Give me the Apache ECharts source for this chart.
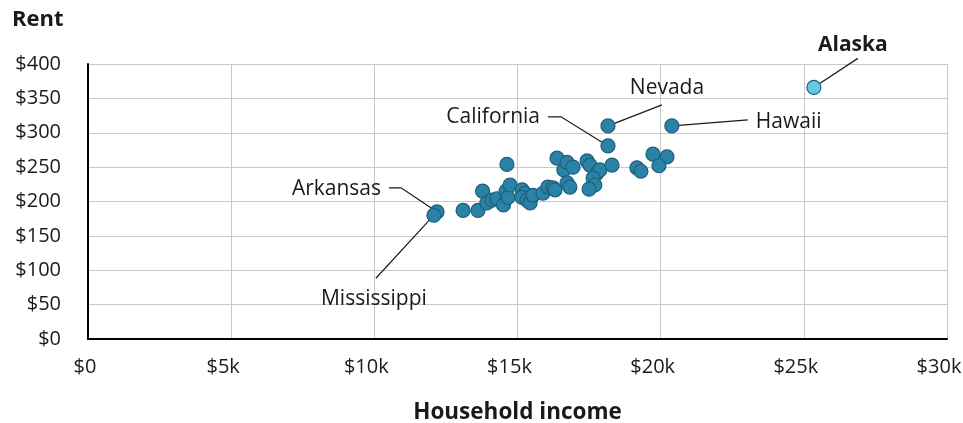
<!DOCTYPE html>
<html>
<head>
<meta charset="utf-8">
<script src="https://cdn.jsdelivr.net/npm/echarts@6/dist/echarts.min.js"></script>
<style>
html,body{margin:0;padding:0;background:#fff;}
#chart{width:963px;height:423px;}
</style>
</head>
<body>
<div id="chart"></div>
<script>
// Household income (USD) and rent (USD) per state
const states = ["Alaska","Hawaii","Nevada","California","Arkansas","Mississippi"];
const labeledIncome = [25350, 20390, 18160, 18160, 12190, 12080];
const labeledRent   = [366, 310, 310, 281, 185, 180];

const otherIncome = [13100,13620,13780,13930,14110,14280,14510,14600,14670,14740,14630,
  15160,15260,15160,15330,15440,15540,15890,16060,16240,16310,16380,16620,16730,16940,
  16730,16830,17430,17530,17770,17880,18300,17640,17700,17500,19170,19310,19730,20220,19940];
const otherRent = [187,187,215,198,202,204,195,215,206,224,254,
  217,212,206,202,198,209,212,221,220,217,263,246,257,250,
  227,221,259,253,241,246,253,234,224,218,249,244,269,265,252];

const xTicks = ["$0","$5k","$10k","$15k","$20k","$25k","$30k"];
const yTicks = ["$0","$50","$100","$150","$200","$250","$300","$350","$400"];

const FONT = "'Open Sans', 'Noto Sans', sans-serif";
const chart = echarts.init(document.getElementById('chart'));

const otherData = otherIncome.map((x, i) => [x, otherRent[i]]);
const labeledData = labeledIncome.map((x, i) => ({
  value: [x, labeledRent[i]],
  name: states[i],
  itemStyle: i === 0 ? {color: '#64c8e2', borderColor: '#1c5f7b'} : undefined
}));

const tickText = {fontFamily: FONT, fontSize: 20, color: '#1a1a1a'};

chart.setOption({
  animation: false,
  grid: {left: 88, right: 16, top: 64, bottom: 84, containLabel: false, outerBoundsMode: 'none'},
  xAxis: {
    type: 'value', min: 0, max: 30000, interval: 5000,
    name: 'Household income', nameLocation: 'middle', nameGap: 62,
    nameTextStyle: {fontFamily: FONT, fontSize: 22.5, fontWeight: 'bold', color: '#1a1a1a'},
    axisLine: {show: true, onZero: false, lineStyle: {color: '#000', width: 2}},
    axisTick: {show: false},
    splitLine: {show: true, lineStyle: {color: '#c8c8c8', width: 1}},
    axisLabel: {margin: 18,
      formatter: v => { const i = Math.round(v / 5000); return (i === 0 ? '{z|' : '{t|') + xTicks[i] + '}'; },
      rich: {
        t: Object.assign({padding: [0, 16, 0, 0]}, tickText),
        z: Object.assign({padding: [0, 6, 0, 0]}, tickText)
      }}
  },
  yAxis: {
    type: 'value', min: 0, max: 400, interval: 50,
    axisLine: {show: true, onZero: false, lineStyle: {color: '#000', width: 2}},
    axisTick: {show: false},
    splitLine: {show: true, lineStyle: {color: '#c8c8c8', width: 1}},
    axisLabel: Object.assign({margin: 27, formatter: v => yTicks[Math.round(v / 50)]}, tickText)
  },
  series: [
    {type: 'scatter', data: otherData, symbolSize: 14,
     itemStyle: {color: '#2a83a7', borderColor: '#1c5f7b', borderWidth: 1.2, opacity: 1}},
    {type: 'scatter', data: labeledData, symbolSize: 14,
     itemStyle: {color: '#2a83a7', borderColor: '#1c5f7b', borderWidth: 1.2, opacity: 1}}
  ]
});

// annotation layout: offsets in px relative to each labeled point
const annot = [
  {pts: [[44,-29]], text: [39,-42], align: 'center', bold: true},
  {pts: [[76,-6]], text: [84,-4], align: 'left'},
  {pts: [[54,-21]], text: [59,-38], align: 'center'},
  {pts: [[-47,-29],[-60,-29]], text: [-68,-29], align: 'right'},
  {pts: [[-36,-24],[-48,-24]], text: [-56,-23], align: 'right'},
  {pts: [[-58,63]], text: [-60,84], align: 'center'}
];

const elements = [];
states.forEach((s, i) => {
  const p = chart.convertToPixel({gridIndex: 0}, [labeledIncome[i], labeledRent[i]]);
  const a = annot[i];
  const first = a.pts[0];
  const len = Math.hypot(first[0], first[1]);
  const start = [p[0] + first[0] / len * 7, p[1] + first[1] / len * 7];
  const points = [start].concat(a.pts.map(d => [p[0] + d[0], p[1] + d[1]]));
  elements.push({type: 'polyline', z: 1, shape: {points: points},
    style: {stroke: '#1a1a1a', lineWidth: 1.2, fill: null}});
  elements.push({type: 'text', z: 2, x: p[0] + a.text[0], y: p[1] + a.text[1],
    style: {text: s, fontFamily: FONT, fontSize: 21, fontWeight: a.bold ? 'bold' : 'normal',
      fill: '#1a1a1a', align: a.align, verticalAlign: 'middle'}});
});
elements.push({type: 'text', left: 12, top: 9,
  style: {text: 'Rent', fontFamily: FONT, fontSize: 22, fontWeight: 'bold', fill: '#1a1a1a'}});
chart.setOption({graphic: elements});
</script>
</body>
</html>
